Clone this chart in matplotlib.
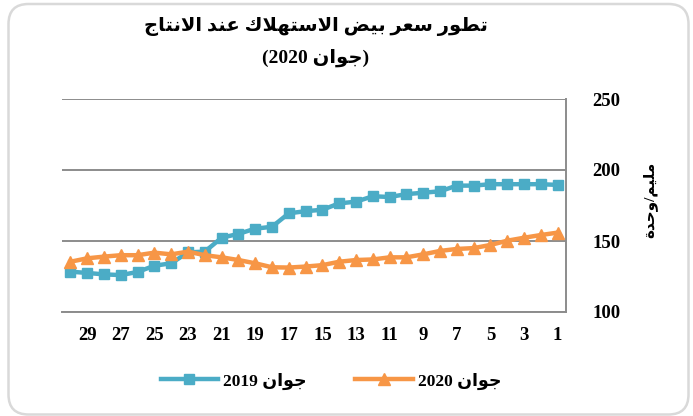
import matplotlib
matplotlib.use('Agg')
import matplotlib.pyplot as plt
from matplotlib.patches import FancyBboxPatch

# ---------------- data ----------------
days = list(range(1, 31))
price_2019 = [189.5, 190, 190, 190, 190, 189, 189, 185, 184, 183,
              181, 181.5, 177.7, 176.5, 172, 171, 169.5, 160, 158.7, 155,
              152.3, 142.5, 142, 134.3, 132.6, 128.2, 126, 126.5, 127.5, 128.4]
price_2020 = [155.9, 154.2, 152.3, 150.2, 147.2, 145, 144.4, 143, 140.6, 138.5,
              138.5, 137, 136.6, 135.4, 133, 132, 131.3, 131.5, 134.3, 136.6,
              138.5, 140, 142.5, 140.6, 141.8, 140, 140, 139, 137.8, 135.4]
tick_days = list(range(1, 30, 2))
y_ticks = [100, 150, 200, 250]

title_1 = "تطور سعر بيض الاستهلاك عند الانتاج"
title_month = "جوان"
title_year = "2020"
y_label = "مليم/وحدة"
series_names = [("جوان", "2019"), ("جوان", "2020")]

# ---------------- minimal Arabic shaping ----------------
DUAL = {'ب': 0xFE8F, 'ت': 0xFE95, 'ج': 0xFE9D, 'ح': 0xFEA1, 'س': 0xFEB1,
        'ض': 0xFEBD, 'ط': 0xFEC1, 'ع': 0xFEC9, 'ك': 0xFED9, 'ل': 0xFEDD,
        'م': 0xFEE1, 'ن': 0xFEE5, 'ه': 0xFEE9, 'ي': 0xFEF1}
RIGHT = {'ا': 0xFE8D, 'ة': 0xFE93, 'د': 0xFEA9, 'ر': 0xFEAD, 'و': 0xFEED}


def is_ar(c):
    return c in DUAL or c in RIGHT


def shape(s):
    out = []
    i, n = 0, len(s)
    while i < n:
        c = s[i]
        if not is_ar(c):
            out.append(c)
            i += 1
            continue
        prev = s[i - 1] if i > 0 else ''
        join_prev = prev in DUAL
        if c == 'ل' and i + 1 < n and s[i + 1] == 'ا':
            out.append(chr(0xFEFC if join_prev else 0xFEFB))
            i += 2
            continue
        nxt = s[i + 1] if i + 1 < n else ''
        join_next = (c in DUAL) and is_ar(nxt)
        base = DUAL.get(c, RIGHT.get(c))
        if join_prev and join_next:
            code = base + 3
        elif join_prev:
            code = base + 1
        elif join_next:
            code = base + 2
        else:
            code = base
        out.append(chr(code))
        i += 1
    return ''.join(out)


def rtl(s):
    return shape(s)[::-1]


FAM = ['Liberation Serif', 'DejaVu Sans']
plt.rcParams['font.family'] = FAM

# ---------------- figure ----------------
fig = plt.figure(figsize=(6.93, 4.16), dpi=100)
fig.patch.set_facecolor('white')
ax = fig.add_axes([62 / 693, 1 - 312 / 416, (566 - 62) / 693, (312 - 99) / 416])

xpos = list(range(len(days)))
c19 = '#4BACC6'
c20 = '#F79646'
l19, = ax.plot(xpos, price_2019, color=c19, lw=3.2, marker='s', ms=6.5,
               label=series_names[0][1] + ' ' + rtl(series_names[0][0]))
l20, = ax.plot(xpos, price_2020, color=c20, lw=3.2, marker='^', ms=8,
               label=series_names[1][1] + ' ' + rtl(series_names[1][0]))

ax.set_xlim(len(days) - 0.5, -0.5)
ax.set_ylim(100, 250)
ax.set_xticks([days.index(d) for d in tick_days])
ax.set_xticklabels([str(d) for d in tick_days])
ax.set_yticks(y_ticks)
ax.yaxis.tick_right()
ax.tick_params(axis='both', length=0, labelsize=13.5)
ax.tick_params(axis='y', pad=19)
ax.tick_params(axis='x', pad=11)
for lab in ax.get_xticklabels() + ax.get_yticklabels():
    lab.set_fontweight('bold')

ax.grid(axis='y', color='#8c8c8c', lw=1.4)
ax.set_axisbelow(True)
for s in ['left', 'top']:
    ax.spines[s].set_visible(False)
for s in ['right', 'bottom']:
    ax.spines[s].set_color('#8c8c8c')
    ax.spines[s].set_linewidth(1.4)

# titles
fig.text(316 / 693, 1 - 27 / 416, rtl(title_1), ha='center', va='center',
         fontsize=14, fontweight='bold')
fig.text(316 / 693, 1 - 58 / 416, '(' + title_year + ' ' + rtl(title_month) + ')',
         ha='center', va='center', fontsize=14, fontweight='bold')

# y label
fig.text(650 / 693, 1 - 200 / 416, rtl(y_label), rotation=90, ha='center',
         va='center', fontsize=11, fontweight='bold')

# legend
leg = fig.legend(handles=[l19, l20], loc='center', ncol=2,
                 bbox_to_anchor=(331 / 693, 1 - 381 / 416), frameon=False,
                 prop={'weight': 'bold', 'size': 12.5}, handlelength=3.3,
                 columnspacing=2.8, handletextpad=0.3)

# rounded border
border = FancyBboxPatch((8.5, 1.5), 680, 410.5,
                        boxstyle='round,pad=0,rounding_size=20',
                        transform=None, facecolor='none',
                        edgecolor='#d9d9d9', lw=1.8)
fig.add_artist(border)

fig.savefig('out.png', dpi=100)
